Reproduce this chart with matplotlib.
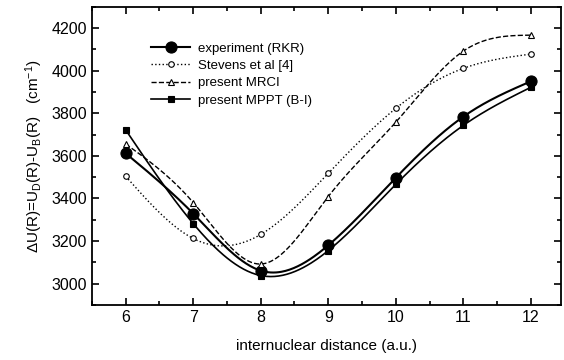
import numpy as np
from matplotlib import pyplot as plt
from matplotlib.ticker import MultipleLocator

plt.rcParams['font.family'] = ['Liberation Sans', 'DejaVu Sans']
plt.rcParams['mathtext.fontset'] = 'custom'
plt.rcParams['mathtext.rm'] = 'Liberation Sans'
plt.rcParams['mathtext.it'] = 'Liberation Sans:italic'

R = [6, 7, 8, 9, 10, 11, 12]
rkr = [3612, 3329, 3061, 3180, 3497, 3784, 3950]
stevens = [3504, 3212, 3231, 3518, 3823, 4011, 4078]
mrci = [3656, 3381, 3092, 3409, 3758, 4092, 4167]
mppt = [3722, 3282, 3038, 3155, 3466, 3743, 3922]


def spline(x, y, n=300):
    # natural cubic spline through the points, only used to draw the line
    x = np.asarray(x, float)
    y = np.asarray(y, float)
    m = len(x)
    h = np.diff(x)
    A = np.zeros((m, m))
    b = np.zeros(m)
    A[0, 0] = A[-1, -1] = 1
    for i in range(1, m - 1):
        A[i, i - 1] = h[i - 1]
        A[i, i] = 2 * (h[i - 1] + h[i])
        A[i, i + 1] = h[i]
        b[i] = 3 * ((y[i + 1] - y[i]) / h[i] - (y[i] - y[i - 1]) / h[i - 1])
    c = np.linalg.solve(A, b)
    xs = np.linspace(x[0], x[-1], n)
    idx = np.clip(np.searchsorted(x, xs) - 1, 0, m - 2)
    dx = xs - x[idx]
    bb = (y[1:] - y[:-1]) / h - h * (2 * c[:-1] + c[1:]) / 3
    dd = (c[1:] - c[:-1]) / (3 * h)
    ys = y[idx] + bb[idx] * dx + c[idx] * dx ** 2 + dd[idx] * dx ** 3
    return xs, ys


fig = plt.figure(figsize=(5.64, 3.6), dpi=100)
ax = fig.add_axes([0.163, 0.153, 0.832, 0.828])

series = [
    (rkr, 'experiment (RKR)', '-', 1.5, 'o', 8, 'k'),
    (stevens, 'Stevens et al [4]', ':', 1.0, 'o', 4, 'white'),
    (mrci, 'present MRCI', '--', 1.0, '^', 5, 'white'),
    (mppt, 'present MPPT (B-I)', '-', 1.2, 's', 4, 'k'),
]
for vals, lab, ls, lw, mk, ms, fc in series:
    xs, ys = spline(R, vals)
    ax.plot(xs, ys, color='k', ls=ls, lw=lw)
    ax.plot(R, vals, ls='none', marker=mk, ms=ms, mfc=fc, mec='k', mew=0.8)
    ax.plot([], [], color='k', ls=ls, lw=lw, marker=mk, ms=ms, mfc=fc,
            mec='k', mew=0.8, label=lab)

ax.set_xlim(5.5, 12.45)
ax.set_ylim(2900, 4300)
ax.xaxis.set_major_locator(MultipleLocator(1))
ax.xaxis.set_minor_locator(MultipleLocator(0.5))
ax.yaxis.set_major_locator(MultipleLocator(200))
ax.yaxis.set_minor_locator(MultipleLocator(100))
ax.tick_params(which='both', direction='in', top=True, right=True,
               labelsize=11.5, width=1.2)
ax.tick_params(which='major', length=5)
ax.tick_params(which='minor', length=3)
for s in ax.spines.values():
    s.set_linewidth(1.3)

ax.set_xlabel('internuclear distance (a.u.)', fontsize=11, labelpad=10)
ax.set_ylabel(r'$\Delta$U(R)=U$_\mathrm{D}$(R)-U$_\mathrm{B}$(R)   (cm$^{-1}$)',
              fontsize=11, labelpad=5)

ax.legend(loc='upper left', bbox_to_anchor=(0.1, 0.92), frameon=False,
          fontsize=9.5, handlelength=3, labelspacing=0.38, handletextpad=0.6)

fig.savefig('out.png', dpi=100)
